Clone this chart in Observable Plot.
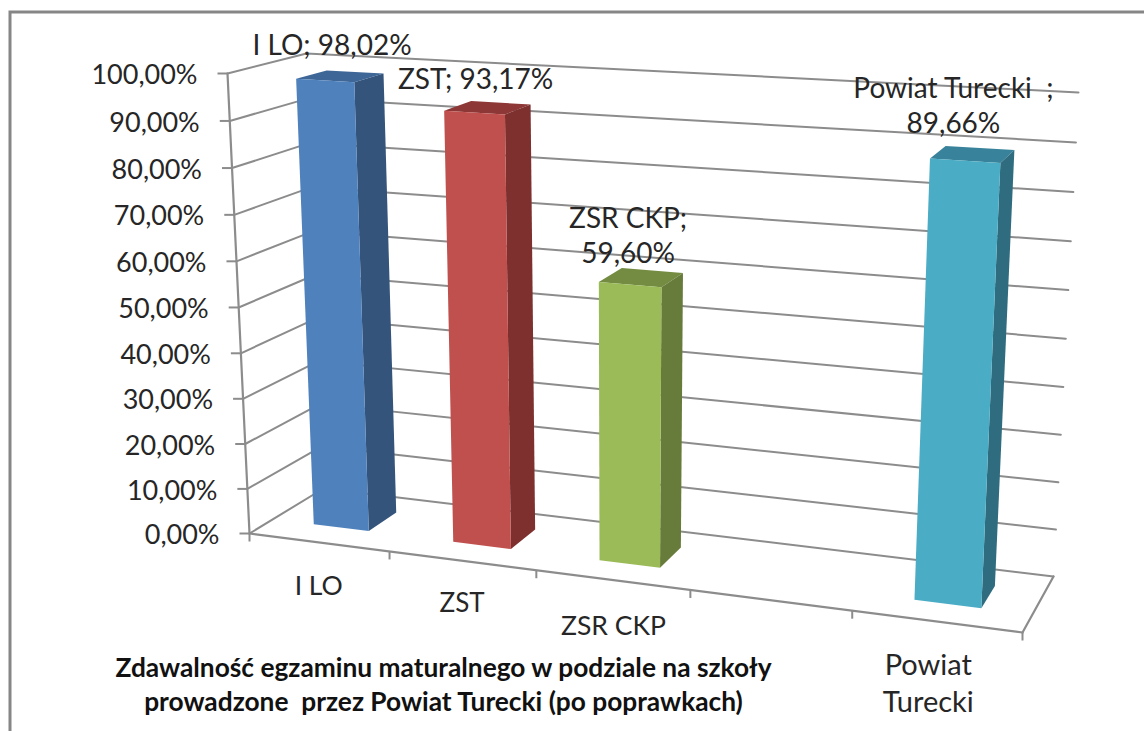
<!DOCTYPE html>
<html><head><meta charset="utf-8">
<script src="https://cdn.jsdelivr.net/npm/d3@7"></script>
<script src="https://cdn.jsdelivr.net/npm/@observablehq/plot@0.6"></script>
<style>html,body{margin:0;padding:0;background:#fff;overflow:hidden}svg{display:block}</style>
</head><body><div id="chart"></div>
<script>
const categories = ["I LO", "ZST", "ZSR CKP", "", "Powiat Turecki"];
const values = [98.02, 93.17, 59.60, null, 89.66];
const valueLabels = ["I LO; 98,02%", "ZST; 93,17%", "ZSR CKP;\n59,60%", "", "Powiat Turecki  ;\n89,66%"];
const categoryLabels = ["I LO", "ZST", "ZSR CKP", "", "Powiat\nTurecki"];
const categoryLabelSizes = [26.5, 26, 26.5, 26, 29];
const axisTicks = [0,10,20,30,40,50,60,70,80,90,100];
const frontColors = ["#4F81BD","#C0504D","#9BBB59",null,"#4BACC6"];
const sideColors = ["#34547C","#7D302E","#677B3A",null,"#2F6C7F"];
const topColors = ["#3E6798","#8D3836","#748C42",null,"#38839B"];
const title = "Zdawalność egzaminu maturalnego w podziale na szkoły\nprowadzone  przez Powiat Turecki (po poprawkach)";

// label nudges relative to the bar / axis anchor
const valueLabelNudge = [[-8,-32],[-12,-30],[-13,-43],[0,0],[-19,-50]];
const categoryLabelNudge = [[0,42],[0,41],[1,44],[0,0],[-8,60]];

// oblique projection of the 3-D chart box: (u along categories, d into depth, v value)
const box = {
  fbl:[249,533], fbr:[1022,632], bbl:[323,488], bbr:[1053,576],
  ftl:[227,73],  ftr:[1046,122], btl:[306,53],  btr:[1078,92]
};
const persp = (a, r) => a / (a + (1 - a) * r);
const lerp = (p, q, a) => [p[0] + (q[0]-p[0])*a, p[1] + (q[1]-p[1])*a];
function project(u, d, v) {
  const t = persp(u, 1.13), s = persp(v/100, 1.035);
  const lo = lerp(lerp(box.fbl, box.fbr, t), lerp(box.bbl, box.bbr, t), d);
  const hi = lerp(lerp(box.ftl, box.ftr, t), lerp(box.btl, box.btr, t), d);
  const [x, y] = lerp(lo, hi, s);
  return {x, y};
}
const n = categories.length, halfWidth = 0.04, d0 = 0.32, d1 = 0.72;

const faces = [];
function face(id, color, pts) { pts.forEach(p => faces.push({id, color, ...project(...p)})); }
values.forEach((val, i) => {
  if (val == null) return;
  const a = (i+.5)/n - halfWidth, b = (i+.5)/n + halfWidth;
  face("top"+i, topColors[i], [[a,d0,val],[b,d0,val],[b,d1,val],[a,d1,val]]);
  face("side"+i, sideColors[i], [[b,d0,0],[b,d1,0],[b,d1,val],[b,d0,val]]);
  face("front"+i, frontColors[i], [[a,d0,0],[b,d0,0],[b,d0,val],[a,d0,val]]);
});

const grid = [];
axisTicks.forEach(v => {
  [[0,0,v],[0,1,v],[1,1,v]].forEach(p => grid.push({id:"g"+v, ...project(...p)}));
});
const frameLines = [
  [[0,0,0],[0,0,100]],
  [[0,0,0],[1,0,0]],
  [[1,0,0],[1,1,0]]
].flatMap((seg,k) => seg.map(p => ({id:"a"+k, ...project(...p)})));

const yTickAnchors = axisTicks.map(v => ({v, ...project(0,0,v)}));
const xTickAnchors = d3.range(n+1).map(i => ({i, ...project(i/n,0,0)}));

const valueAnchors = values.map((val,i) => val == null ? null : ({
  label: valueLabels[i],
  ...(p => ({x:p.x+valueLabelNudge[i][0], y:p.y+valueLabelNudge[i][1]}))(project((i+.5)/n,(d0+d1)/2,val))
})).filter(Boolean);
const catAnchors = categories.map((c,i) => c === "" ? null : ({
  label: categoryLabels[i], size: categoryLabelSizes[i],
  ...(p => ({x:p.x+categoryLabelNudge[i][0], y:p.y+categoryLabelNudge[i][1]}))(project((i+.5)/n,0,0))
})).filter(Boolean);

const font = "Lato, 'Open Sans', sans-serif";
const gray = "#8c8c8c", ink = "#262626";
const chart = Plot.plot({
  width: 1144, height: 731,
  margin: 0,
  x: {type:"linear", domain:[0,1144], range:[0,1144], axis:null},
  y: {type:"linear", domain:[0,731], range:[0,731], axis:null},
  style: {background:"#fff", fontFamily: font},
  marks: [
    Plot.frame({stroke:"#868686", strokeWidth:3, insetLeft:9.5, insetTop:11.5, insetRight:-10, insetBottom:-10}),
    Plot.line(grid, {x:"x", y:"y", z:"id", stroke:gray, strokeWidth:2}),
    Plot.line(frameLines, {x:"x", y:"y", z:"id", stroke:gray, strokeWidth:2.2}),
    Plot.link(yTickAnchors, {x1:d => d.x - 10, x2:"x", y1:"y", y2:"y", stroke:gray, strokeWidth:2}),
    Plot.link(xTickAnchors, {x1:"x", x2:"x", y1:"y", y2:d => d.y + 8, stroke:gray, strokeWidth:2}),
    Plot.line(faces, {x:"x", y:"y", z:"id", fill:"color", stroke:"none"}),
    Plot.text(yTickAnchors, {x:"x", y:"y", text:d => d.v.toFixed(2).replace(".",",")+"%", textAnchor:"end", dx:-30, dy:2, fontSize:27, fill:ink}),
    Plot.text(valueAnchors, {x:"x", y:"y", text:"label", fontSize:28, lineHeight:1.24, fill:ink}),
    Plot.text(catAnchors, {x:"x", y:"y", text:"label", fontSize:"size", lineHeight:1.27, fill:ink}),
    Plot.text([title], {frameAnchor:"bottom-left", dx:443, dy:-21, textAnchor:"middle", fontSize:26.3, fontWeight:700, lineHeight:1.28, fill:"#111"})
  ]
});
document.getElementById("chart").append(chart);
</script></body></html>
